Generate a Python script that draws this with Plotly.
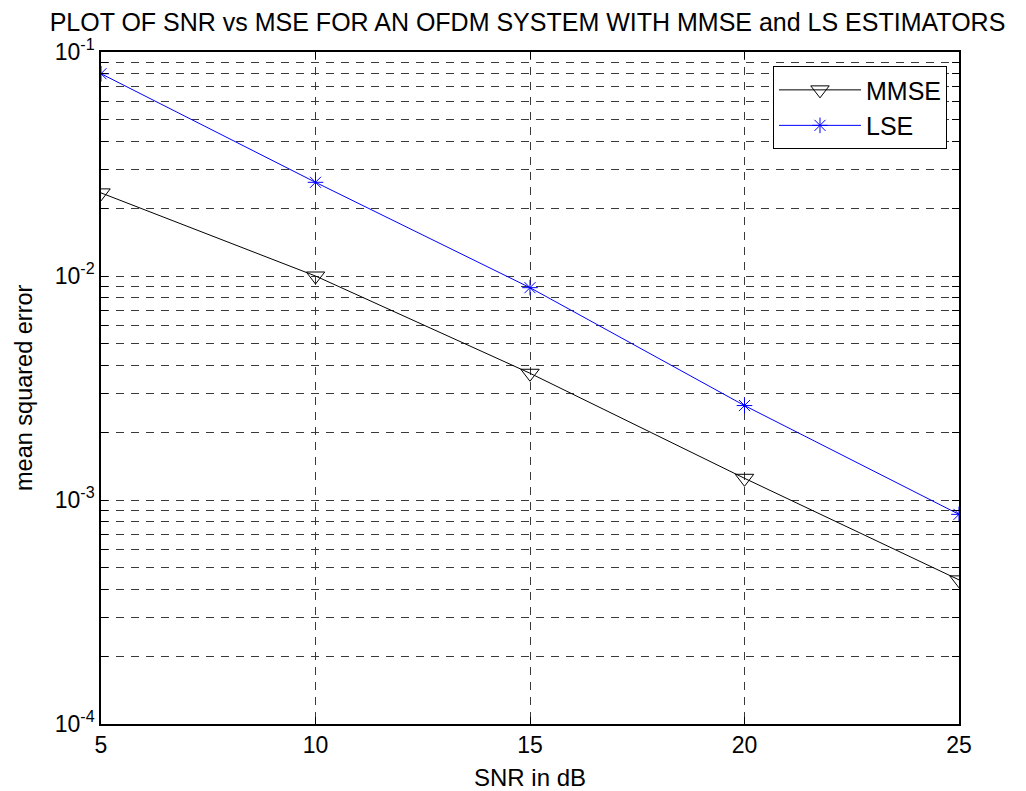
import plotly.graph_objects as go

snr_db = [5, 10, 15, 20, 25]
mse_mmse = [0.0235, 0.0100, 0.00368, 0.00125, 0.00044]
mse_lse = [0.0800, 0.0262, 0.00887, 0.00264, 0.000863]

x_ticks = [5, 10, 15, 20, 25]
decades = [-4, -3, -2, -1]

y_tickvals = []
y_ticktext = []
for d in decades:
    for m in range(1, 10):
        if d == -1 and m > 1:
            break
        y_tickvals.append(m * 10.0 ** d)
        y_ticktext.append(f"10<sup>{d}</sup>" if m == 1 else "")

font_family = "Liberation Sans, Arial, sans-serif"
grid_dash = "8px,7px"
grid_color = "#3a3a3a"

fig = go.Figure()
fig.add_trace(go.Scatter(
    x=snr_db, y=mse_mmse, name="MMSE", mode="lines+markers",
    line=dict(color="black", width=1),
    marker=dict(symbol="triangle-down-open", size=16, color="black", line=dict(width=1)),
))
fig.add_trace(go.Scatter(
    x=snr_db, y=mse_lse, name="LSE", mode="lines+markers",
    line=dict(color="#0000ff", width=1),
    marker=dict(symbol="asterisk-open", size=13, color="#0000ff", line=dict(width=1, color="#0000ff")),
))

fig.update_layout(
    width=1018, height=783,
    margin=dict(l=93, r=67, t=44, b=67),
    paper_bgcolor="white", plot_bgcolor="white",
    font=dict(family=font_family, size=23, color="black"),
    title=dict(text="PLOT OF SNR vs MSE FOR AN OFDM SYSTEM WITH MMSE and LS ESTIMATORS",
               x=0.5103, xanchor="center", xref="container",
               y=0.993, yanchor="top", yref="container",
               pad=dict(t=0, b=0, l=0, r=0),
               font=dict(size=25)),
    legend=dict(x=0.986, y=0.979, xanchor="right", yanchor="top",
                bgcolor="white", bordercolor="black", borderwidth=1,
                font=dict(size=25), itemwidth=82),
    showlegend=True,
    annotations=[
        dict(text="mean squared error", xref="paper", yref="paper", x=0, y=0.5,
             xanchor="center", yanchor="middle", xshift=-77, textangle=-90,
             showarrow=False, font=dict(size=23.5)),
        dict(text="SNR in dB", xref="paper", yref="paper", x=0.5, y=0,
             xanchor="center", yanchor="middle", yshift=-53,
             showarrow=False, font=dict(size=24)),
    ],
)
fig.update_xaxes(
    range=[5, 25], tickvals=x_ticks, ticktext=[str(v) for v in x_ticks],
    showline=True, linecolor="black", linewidth=1.5, mirror="ticks",
    ticks="inside", ticklen=7, tickcolor="black",
    showgrid=True, gridcolor=grid_color, griddash=grid_dash, gridwidth=1,
    zeroline=False, tickfont=dict(size=23),
)
fig.update_yaxes(
    type="log", range=[-4, -1], tickvals=y_tickvals, ticktext=y_ticktext,
    showline=True, linecolor="black", linewidth=1.5, mirror="ticks",
    ticks="inside", ticklen=7, tickcolor="black",
    showgrid=True, gridcolor=grid_color, griddash=grid_dash, gridwidth=1,
    zeroline=False, tickfont=dict(size=23),
)

fig.write_html("out.html")
